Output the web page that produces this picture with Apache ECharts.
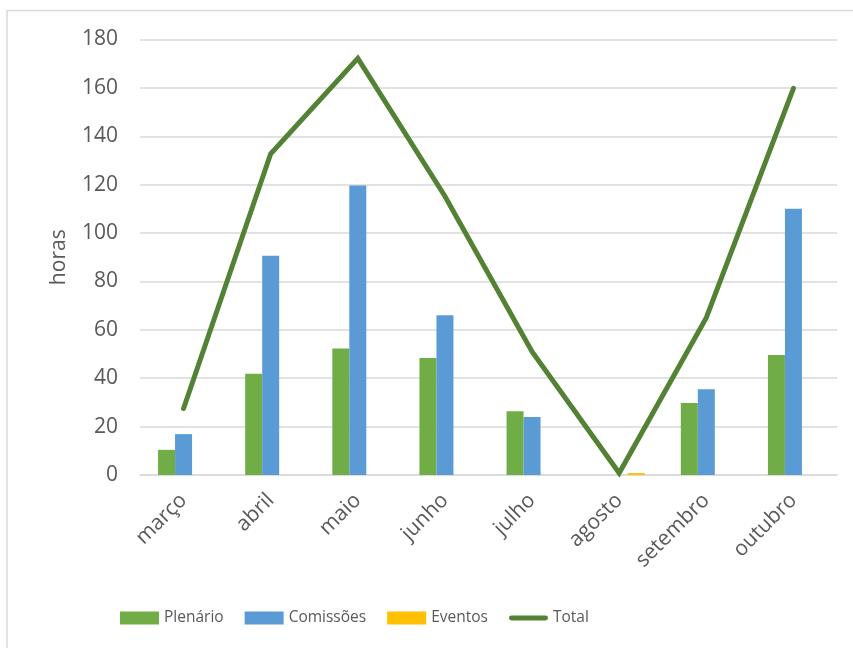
<!DOCTYPE html>
<html>
<head>
<meta charset="utf-8">
<script src="https://cdn.jsdelivr.net/npm/echarts@6/dist/echarts.min.js"></script>
<style>
html,body{margin:0;padding:0;background:#fff;}
#c{width:853px;height:648px;}
</style>
</head>
<body>
<div id="c"></div>
<script>
const categories = ['março','abril','maio','junho','julho','agosto','setembro','outubro'];
const plenario = [10.4, 41.8, 52.3, 48.4, 26.4, 0, 29.8, 49.6];
const comissoes = [16.9, 90.6, 119.7, 66.0, 24.0, 0, 35.4, 110.0];
const eventos = [0, 0, 0, 0, 0, 0.8, 0, 0];
const total = [27.5, 132.8, 172.2, 115.2, 51.0, 0.8, 65.0, 159.8];
const yTicks = { min: 0, max: 180, interval: 20 };

const txt = '#595959';
const font = 'Open Sans';
const chart = echarts.init(document.getElementById('c'), null, {renderer:'canvas'});
chart.setOption({
  backgroundColor: '#fff',
  animation: false,
  textStyle: { fontFamily: font },
  graphic: [
    { type: 'line', shape: { x1: 7, y1: 10.5, x2: 853, y2: 10.5 }, style: { stroke: '#d9d9d9', lineWidth: 1.5 } },
    { type: 'line', shape: { x1: 7, y1: 10.5, x2: 7, y2: 648 }, style: { stroke: '#d9d9d9', lineWidth: 1.5 } }
  ],
  grid: { left: 140, right: 16, top: 39.5, bottom: 173, containLabel: false },
  legend: {
    left: 120, top: 610, padding: 0,
    itemWidth: 39, itemHeight: 13, itemGap: 21,
    textStyle: { color: txt, fontSize: 15.5, fontFamily: font },
    data: [
      { name: 'Plenário', icon: 'rect' },
      { name: 'Comissões', icon: 'rect' },
      { name: 'Eventos', icon: 'rect' },
      { name: 'Total', icon: 'path://M2.5,0 L37.5,0 A2.5,2.5 0 0 1 37.5,5 L2.5,5 A2.5,2.5 0 0 1 2.5,0 Z' }
    ]
  },
  xAxis: {
    type: 'category',
    data: categories,
    axisLine: { show: true, lineStyle: { color: '#d9d9d9', width: 1.5 } },
    axisTick: { show: false },
    axisLabel: { rotate: 45, color: txt, fontSize: 21, fontFamily: font, margin: 22, interval: 0 }
  },
  yAxis: {
    type: 'value',
    min: yTicks.min, max: yTicks.max, interval: yTicks.interval,
    name: 'horas',
    nameLocation: 'middle',
    nameGap: 70,
    nameRotate: 90,
    nameTextStyle: { color: txt, fontSize: 21, fontFamily: font },
    axisLine: { show: false },
    axisTick: { show: false },
    axisLabel: { color: txt, fontSize: 21, fontFamily: font, margin: 22 },
    splitLine: { lineStyle: { color: '#d9d9d9', width: 1.5 } }
  },
  series: [
    { name: 'Plenário', type: 'bar', data: plenario, barWidth: 17, barGap: '0%',
      itemStyle: { color: '#70ad47' } },
    { name: 'Comissões', type: 'bar', data: comissoes, barWidth: 17, barGap: '0%',
      itemStyle: { color: '#5b9bd5' } },
    { name: 'Eventos', type: 'bar', data: eventos, barWidth: 17, barGap: '0%',
      itemStyle: { color: '#ffc000' } },
    { name: 'Total', type: 'line', data: total, symbol: 'none', showSymbol: false, z: 5,
      lineStyle: { color: '#548235', width: 5, cap: 'round', join: 'miter' },
      itemStyle: { color: '#548235' } }
  ]
});
</script>
</body>
</html>
